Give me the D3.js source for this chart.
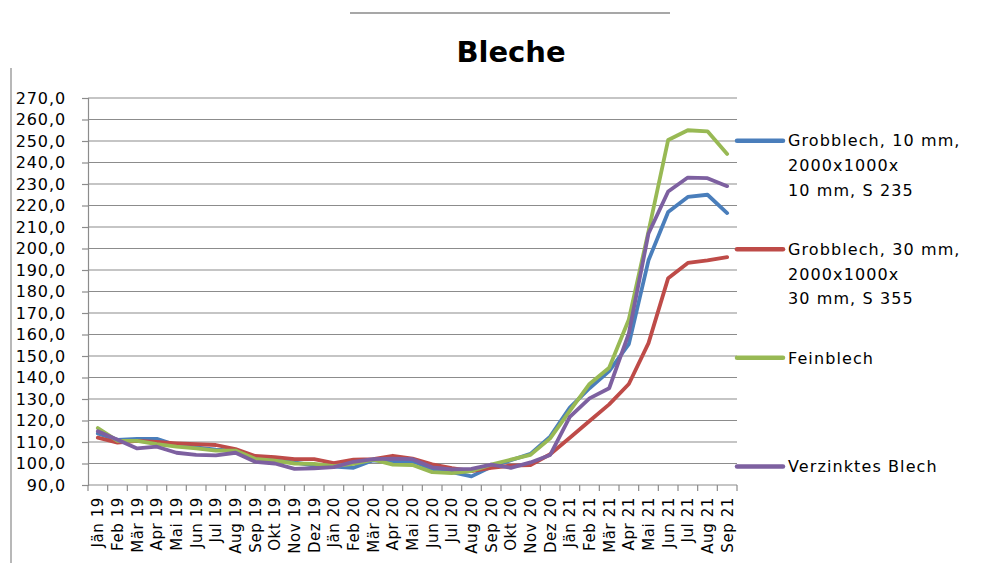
<!DOCTYPE html>
<html>
<head>
<meta charset="utf-8">
<script src="https://cdn.jsdelivr.net/npm/d3@7"></script>
<style>
    body { margin: 0; background: #fff; }
    svg { display: block; }
    text { font-family: "DejaVu Sans", sans-serif; fill: #000; }
</style>
</head>
<body>
<div id="chart"></div>
<script>

// months on the x axis
const months = [
    "Jän 19", "Feb 19", "Mär 19", "Apr 19", "Mai 19", "Jun 19", "Jul 19", "Aug 19", "Sep 19", "Okt 19", "Nov 19", "Dez 19",
    "Jän 20", "Feb 20", "Mär 20", "Apr 20", "Mai 20", "Jun 20", "Jul 20", "Aug 20", "Sep 20", "Okt 20", "Nov 20", "Dez 20",
    "Jän 21", "Feb 21", "Mär 21", "Apr 21", "Mai 21", "Jun 21", "Jul 21", "Aug 21", "Sep 21"
]

const grob10 = [
    114, 111, 111.5, 111.5, 108.5, 107.5, 106.5, 106, 102.5, 101.5, 100.5, 99,
    98.5, 98, 101.5, 101, 101, 97.5, 96, 94, 98.5, 101.5, 104.5, 112.5,
    126, 135, 143, 155.5, 194.5, 217, 224, 225, 216.5
]

const grob30 = [
    112, 109.7, 110.5, 110, 109.4, 109, 108.6, 106.7, 103.5, 103, 102, 102,
    100.2, 101.8, 102, 103.6, 102.3, 99.6, 97.8, 96.5, 98, 99, 99.3, 104.3,
    112, 119.8, 127.5, 137, 156, 186.2, 193.3, 194.5, 196
]

const fein = [
    116.5, 110.5, 110.5, 109, 107.8, 107, 106, 106, 102.2, 101.3, 100, 99.8,
    98.8, 99.8, 101.8, 99.5, 99.3, 96, 95.5, 96.5, 99.5, 101.8, 104, 111.7,
    124.5, 137, 144.5, 167, 208, 250.5, 255, 254.5, 244
]

const verzinkt = [
    115, 111, 107, 107.8, 105, 104, 103.8, 105, 100.8, 100, 97.5, 97.8,
    98.3, 100.8, 102, 102.3, 102, 98.2, 97.3, 97.5, 99.5, 98, 100.5, 104,
    121.7, 130.3, 135, 160.5, 207, 226.5, 233, 232.7, 229
]

const yTicks = d3.range(90, 271, 10)

const seriesNames = [
    ["Grobblech, 10 mm,", "2000x1000x", "10 mm, S 235"],
    ["Grobblech, 30 mm,", "2000x1000x", "30 mm, S 355"],
    ["Feinblech"],
    ["Verzinktes Blech"]
]
const seriesColors = ["#4a7ebb", "#be4b48", "#98b954", "#7d60a0"]


class BlecheChart {

    constructor(selection) {
        this.width = 1000
        this.height = 563
        this.plot = { left: 88, right: 737, top: 98, bottom: 485 }

        this.svg = selection.append("svg")
            .attr("width", this.width)
            .attr("height", this.height)

        this.x = d3.scaleBand()
            .domain(months)
            .range([this.plot.left, this.plot.right])
            .padding(0)

        this.y = d3.scaleLinear()
            .domain([90, 270])
            .range([this.plot.bottom, this.plot.top])

        this.drawFrame()
        this.drawAxes()
        this.drawLines([grob10, grob30, fein, verzinkt])
        this.drawLegend()
    }

    drawFrame() {
        // leftovers of the surrounding sheet
        this.svg.append("line")
            .attr("x1", 350).attr("x2", 670)
            .attr("y1", 13).attr("y2", 13)
            .attr("stroke", "#8a8a8a").attr("stroke-width", 1.5)

        this.svg.append("line")
            .attr("x1", 11).attr("x2", 11)
            .attr("y1", 68).attr("y2", this.height)
            .attr("stroke", "#a0a0a0").attr("stroke-width", 1.5)

        this.svg.append("text")
            .attr("x", 511)
            .attr("y", 62)
            .attr("text-anchor", "middle")
            .style("font-size", "29px")
            .style("font-weight", "bold")
            .text("Bleche")
    }

    drawAxes() {
        var x = this.x
        var y = this.y
        var p = this.plot

        // horizontal gridlines
        this.svg.append("g")
            .selectAll("line")
            .data(yTicks.slice(1))
            .enter()
            .append("line")
            .attr("x1", p.left).attr("x2", p.right)
            .attr("y1", d => y(d)).attr("y2", d => y(d))
            .attr("stroke", "#8c8c8c")
            .attr("stroke-width", 1.2)

        var yAxis = d3.axisLeft(y)
            .tickValues(yTicks)
            .tickSize(6)
            .tickFormat(d => d3.format(".1f")(d).replace(".", ","))

        var gy = this.svg.append("g")
            .attr("transform", `translate(${p.left},0)`)
            .call(yAxis)
        gy.select(".domain").attr("stroke", "#8c8c8c").attr("stroke-width", 1.2)
        gy.selectAll(".tick line").attr("stroke", "#8c8c8c").attr("stroke-width", 1.2)
        gy.selectAll(".tick text")
            .attr("x", -22)
            .style("font-family", "DejaVu Sans")
            .style("font-size", "16px")
            .style("letter-spacing", "0.9px")
            .attr("fill", "#000")

        // x axis line and ticks between categories
        this.svg.append("line")
            .attr("x1", p.left).attr("x2", p.right)
            .attr("y1", p.bottom).attr("y2", p.bottom)
            .attr("stroke", "#8c8c8c").attr("stroke-width", 1.2)

        var bounds = months.map(m => x(m)).concat([x.range()[1]])
        this.svg.append("g")
            .selectAll("line")
            .data(bounds)
            .enter()
            .append("line")
            .attr("x1", d => d).attr("x2", d => d)
            .attr("y1", p.bottom).attr("y2", p.bottom + 6)
            .attr("stroke", "#8c8c8c").attr("stroke-width", 1.2)

        this.svg.append("g")
            .selectAll("text")
            .data(months)
            .enter()
            .append("text")
            .attr("transform", d => `translate(${x(d) + x.bandwidth() / 2},${p.bottom + 12}) rotate(-90)`)
            .attr("dy", "0.36em")
            .attr("text-anchor", "end")
            .style("font-size", "15px")
            .style("letter-spacing", "0.6px")
            .text(d => d)
    }

    drawLines(allSeries) {
        var x = this.x
        var y = this.y
        var half = x.bandwidth() / 2

        var line = d3.line()
            .x((d, i) => x(months[i]) + half)
            .y(d => y(d))

        this.svg.append("g")
            .selectAll("path")
            .data(allSeries)
            .enter()
            .append("path")
            .attr("d", d => line(d))
            .attr("fill", "none")
            .attr("stroke", (d, i) => seriesColors[i])
            .attr("stroke-width", 3.8)
            .attr("stroke-linejoin", "round")
            .attr("stroke-linecap", "round")
    }

    drawLegend() {
        var entryY = [140.7, 249.3, 357.8, 466.6]
        var lineGap = 24.6

        var legend = this.svg.append("g")
        var entries = legend.selectAll("g")
            .data(seriesNames)
            .enter()
            .append("g")
            .attr("transform", (d, i) => `translate(737,${entryY[i]})`)

        entries.append("line")
            .attr("x1", 0).attr("x2", 46)
            .attr("y1", 0).attr("y2", 0)
            .attr("stroke", (d, i) => seriesColors[i])
            .attr("stroke-width", 4.5)
            .attr("stroke-linecap", "round")

        entries.selectAll("text")
            .data(d => d)
            .enter()
            .append("text")
            .attr("x", 51)
            .attr("y", (d, i) => i * lineGap)
            .attr("dy", "0.36em")
            .style("font-size", "16px")
            .style("letter-spacing", "1.1px")
            .text(d => d)
    }
}

new BlecheChart(d3.select("#chart"))

</script>
</body>
</html>
